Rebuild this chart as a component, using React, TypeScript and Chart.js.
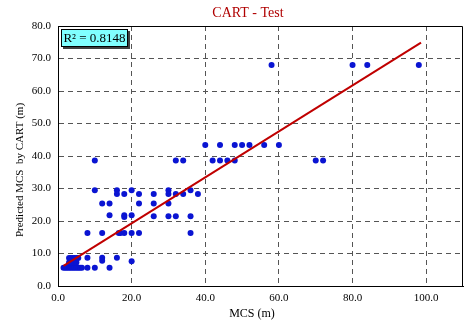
import React, { useEffect, useRef } from "react";
import { Chart, registerables } from "chart.js";
Chart.register(...registerables);

const TITLE = "CART - Test";
const X_TITLE = "MCS (m)";
const Y_TITLE = "Predicted MCS  by CART (m)";
const R2_TEXT = "R\u00B2 = 0.8148";

const obsX: number[] = [
  58, 80, 84, 98,
  40, 44, 48, 50, 52, 56, 60,
  10, 32, 34, 42, 44, 46, 48, 70, 72,
  10, 16, 20, 30, 36,
  16, 18, 22, 26, 30, 32, 34, 38,
  12, 14, 22, 26, 30,
  14, 18, 18, 20, 26, 30, 32, 36,
  8, 12, 16.5, 17, 18, 20, 22, 36,
  8, 12, 12, 16, 20,
  8, 10, 14,
  1.5, 2, 2.5, 3, 3.5, 4, 4.5, 5, 5.5, 6, 6.5,
  3, 4, 5,
  3, 3.5, 4, 4.5, 5, 5.5,
];
const predY: number[] = [
  68, 68, 68, 68,
  43.4, 43.4, 43.4, 43.4, 43.4, 43.4, 43.4,
  38.6, 38.6, 38.6, 38.6, 38.6, 38.6, 38.6, 38.6, 38.6,
  29.5, 29.5, 29.5, 29.5, 29.5,
  28.3, 28.3, 28.3, 28.3, 28.3, 28.3, 28.3, 28.3,
  25.4, 25.4, 25.4, 25.4, 25.4,
  21.8, 21.8, 21.2, 21.8, 21.5, 21.5, 21.5, 21.5,
  16.3, 16.3, 16.3, 16.3, 16.3, 16.3, 16.3, 16.3,
  8.7, 8.7, 7.8, 8.7, 7.6,
  5.6, 5.6, 5.6,
  5.6, 5.6, 5.6, 5.6, 5.6, 5.6, 5.6, 5.6, 5.6, 5.6, 5.6,
  7.2, 7.2, 7.2,
  8.6, 8.6, 8.6, 8.6, 8.6, 8.6,
];
const fitX: number[] = [1.5, 98.6];
const fitY: number[] = [6.2, 74.9];

const SERIF = "'Liberation Serif', 'Times New Roman', serif";

export default function App() {
  const ref = useRef<HTMLCanvasElement | null>(null);
  useEffect(() => {
    document.body.style.margin = "0";
    const canvas = ref.current;
    if (!canvas) return;
    const overlay = {
      id: "overlay",
      afterDraw(chart: any) {
        const ctx = chart.ctx;
        const a = chart.chartArea;
        ctx.save();
        ctx.strokeStyle = "#000";
        ctx.lineWidth = 1;
        ctx.beginPath();
        ctx.moveTo(a.left, a.top + 0.5);
        ctx.lineTo(a.right - 0.5, a.top + 0.5);
        ctx.lineTo(a.right - 0.5, a.bottom);
        ctx.stroke();
        ctx.fillStyle = "#b00000";
        ctx.font = `14px ${SERIF}`;
        ctx.textAlign = "center";
        ctx.textBaseline = "middle";
        ctx.fillText(TITLE, 248, 13);
        ctx.fillStyle = "#000";
        ctx.font = `12px ${SERIF}`;
        ctx.fillText(X_TITLE, 252, 314);
        ctx.save();
        ctx.translate(20, 170);
        ctx.rotate(-Math.PI / 2);
        ctx.font = `11px ${SERIF}`;
        ctx.fillText(Y_TITLE, 0, 0);
        ctx.restore();
        const bx = 61, by = 29, bw = 67, bh = 18;
        ctx.fillStyle = "#404040";
        ctx.fillRect(bx + 2, by + 2, bw, bh);
        ctx.fillStyle = "#80ffff";
        ctx.fillRect(bx, by, bw, bh);
        ctx.strokeStyle = "#000";
        ctx.strokeRect(bx + 0.5, by + 0.5, bw - 1, bh - 1);
        ctx.fillStyle = "#000";
        ctx.font = `13px ${SERIF}`;
        ctx.fillText(R2_TEXT, bx + bw / 2, by + bh / 2 + 1);
        ctx.restore();
      },
    };
    const chart = new Chart(canvas, {
      type: "scatter",
      data: {
        datasets: [
          {
            type: "line",
            data: fitX.map((x, i) => ({ x, y: fitY[i] })),
            borderColor: "#c00000",
            borderWidth: 2,
            pointRadius: 0,
            showLine: true,
            fill: false,
            order: 0,
          } as any,
          {
            data: obsX.map((x, i) => ({ x, y: predY[i] })),
            backgroundColor: "#0a14d2",
            borderColor: "#0a14d2",
            pointRadius: 3,
            pointBorderWidth: 0,
            order: 1,
          },
        ],
      },
      options: {
        animation: false,
        responsive: false,
        events: [],
        layout: { autoPadding: false, padding: { top: 26, right: 1, left: 0, bottom: 0 } },
        plugins: { legend: { display: false }, title: { display: false }, tooltip: { enabled: false } },
        scales: {
          x: {
            type: "linear",
            min: 0,
            max: 110,
            afterFit: (s: any) => { s.height = 37; s.paddingLeft = 0; s.paddingRight = 0; },
            afterBuildTicks: (s: any) => { s.ticks = [0, 20, 40, 60, 80, 100].map((v) => ({ value: v })); },
            ticks: {
              color: "#000",
              font: { family: SERIF, size: 11 },
              padding: 6,
              callback: (v: any) => Number(v).toFixed(1),
            },
            grid: {
              color: (c: any) => (c.tick && c.tick.value === 0 ? "rgba(0,0,0,0)" : "#555"),
              drawTicks: false,
            },
            border: { display: true, color: "#000", width: 1, dash: [5, 4] },
          },
          y: {
            type: "linear",
            min: 0,
            max: 80,
            afterFit: (s: any) => { s.width = 58; s.paddingTop = 0; s.paddingBottom = 0; },
            ticks: {
              stepSize: 10,
              color: "#000",
              font: { family: SERIF, size: 11 },
              padding: 7,
              callback: (v: any) => Number(v).toFixed(1),
            },
            grid: {
              color: (c: any) => (c.tick && (c.tick.value === 0 || c.tick.value === 80) ? "rgba(0,0,0,0)" : "#555"),
              drawTicks: false,
            },
            border: { display: true, color: "#000", width: 1, dash: [5, 4] },
          },
        },
      },
      plugins: [overlay],
    } as any);
    return () => chart.destroy();
  }, []);
  return <canvas ref={ref} width={464} height={323} style={{ display: "block" }} />;
}
